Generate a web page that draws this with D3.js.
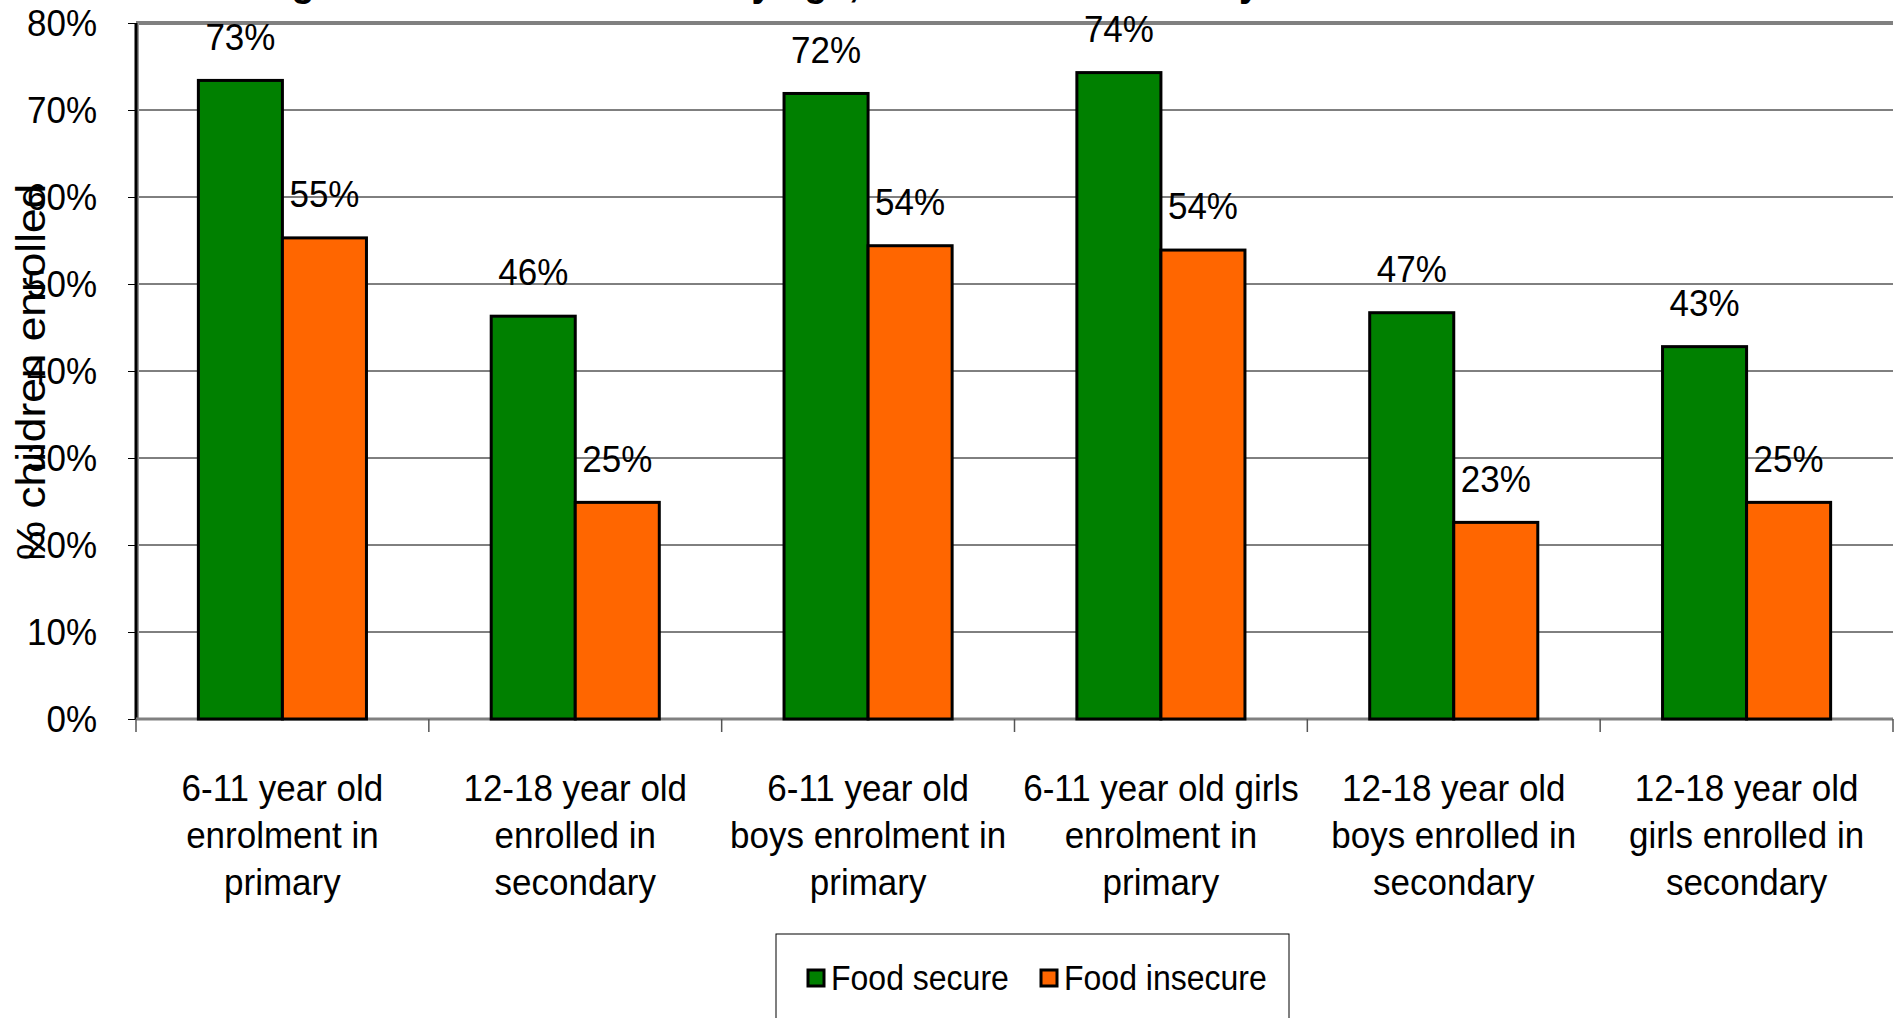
<!DOCTYPE html>
<html>
<head>
<meta charset="utf-8">
<script src="https://cdn.jsdelivr.net/npm/d3@7"></script>
<style>
  html, body { margin: 0; padding: 0; background: #fff; }
  svg { display: block; }
  text { font-family: "Liberation Sans", Arial, sans-serif; fill: #000; }
</style>
</head>
<body>
<svg id="chart" width="1902" height="1018"></svg>
<script>
// ---- data ----
const categories = [
  ["6-11 year old", "enrolment in", "primary"],
  ["12-18 year old", "enrolled in", "secondary"],
  ["6-11 year old", "boys enrolment in", "primary"],
  ["6-11 year old girls", "enrolment in", "primary"],
  ["12-18 year old", "boys enrolled in", "secondary"],
  ["12-18 year old", "girls enrolled in", "secondary"]
];
const seriesNames = ["Food secure", "Food insecure"];
const foodSecure   = [0.734, 0.463, 0.719, 0.743, 0.467, 0.428];
const foodInsecure = [0.553, 0.249, 0.544, 0.539, 0.226, 0.249];
const yTicks = [0, 0.1, 0.2, 0.3, 0.4, 0.5, 0.6, 0.7, 0.8];
const yTitle = "% children enrolled";
const chartTitle = "Percentage of children in school by age, sex and food security";

(function () {
// ---- layout ----
const svg = d3.select("#chart");
const pLeft = 136, pRight = 1893, pTop = 23, pBottom = 719;
const VS = 1.08; // vertical stretch of text in the original image
const colors = {"Food secure": "#008000", "Food insecure": "#FF6600"};

const catIdx = categories.map((d, i) => i);
const x0 = d3.scaleBand().domain(catIdx).range([pLeft, pRight]).padding(0);
const innerW = x0.bandwidth() * 0.574;
const x1 = d3.scaleBand().domain(seriesNames)
  .range([(x0.bandwidth() - innerW) / 2, (x0.bandwidth() + innerW) / 2]).padding(0);
const y = d3.scaleLinear().domain([0, 0.8]).range([pBottom, pTop]);

function stretched(sel, x, yy, extra) {
  return sel.attr("transform", `translate(${x},${yy}) scale(1,${VS})` + (extra || ""));
}

// title (mostly clipped above the window, as in the original)
stretched(svg.append("text"), 131, -4)
  .attr("font-size", 38).attr("font-weight", "bold").text(chartTitle);

// gridlines
svg.append("g").selectAll("line").data(yTicks.filter(t => t > 0 && t < 0.8)).join("line")
  .attr("x1", pLeft).attr("x2", pRight)
  .attr("y1", d => y(d)).attr("y2", d => y(d))
  .attr("stroke", "#000").attr("stroke-width", 1);
// top border (80%)
svg.append("line").attr("x1", pLeft).attr("x2", pRight)
  .attr("y1", y(0.8)).attr("y2", y(0.8))
  .attr("stroke", "#808080").attr("stroke-width", 4);

// y axis via d3
const yAxis = d3.axisLeft(y).tickValues(yTicks).tickSize(8).tickFormat(() => "");
const yg = svg.append("g").attr("transform", `translate(${pLeft},0)`).call(yAxis);
yg.select(".domain").remove();
yg.selectAll(".tick line").attr("stroke", "#000").attr("stroke-width", 1);
svg.append("line").attr("x1", pLeft + 2).attr("x2", pLeft + 2).attr("y1", pTop).attr("y2", pBottom)
  .attr("stroke", "#999").attr("stroke-width", 2);
svg.append("line").attr("x1", pLeft).attr("x2", pLeft).attr("y1", pTop).attr("y2", pBottom + 1)
  .attr("stroke", "#000").attr("stroke-width", 3);

// y tick labels
const fmt = d3.format(".0%");
yTicks.forEach(t => {
  stretched(svg.append("text"), 97, y(t))
    .attr("text-anchor", "end").attr("dy", "0.35em").attr("font-size", 35).text(fmt(t));
});

// y title
stretched(svg.append("text"), 45, 372, " rotate(-90)")
  .attr("text-anchor", "middle").attr("font-size", 41).text(yTitle);

// x axis baseline and ticks
svg.append("line").attr("x1", pLeft).attr("x2", pRight).attr("y1", pBottom).attr("y2", pBottom)
  .attr("stroke", "#808080").attr("stroke-width", 3);
const bounds = catIdx.map(i => x0(i)).concat([pRight]);
svg.append("g").selectAll("line").data(bounds).join("line")
  .attr("x1", d => d).attr("x2", d => d).attr("y1", pBottom).attr("y2", pBottom + 13)
  .attr("stroke", "#555").attr("stroke-width", 1.5);

// bars
const rows = catIdx.map(i => [
  {s: "Food secure", v: foodSecure[i], i},
  {s: "Food insecure", v: foodInsecure[i], i}
]);
const groups = svg.append("g").selectAll("g").data(rows).join("g")
  .attr("transform", (d, i) => `translate(${x0(i)},0)`);
groups.selectAll("rect").data(d => d).join("rect")
  .attr("x", d => x1(d.s)).attr("width", x1.bandwidth())
  .attr("y", d => y(d.v)).attr("height", d => y(0) - y(d.v))
  .attr("fill", d => colors[d.s]).attr("stroke", "#000").attr("stroke-width", 3);

// data labels
rows.flat().forEach(d => {
  stretched(svg.append("text"), x0(d.i) + x1(d.s) + x1.bandwidth() / 2, y(d.v) - 44)
    .attr("text-anchor", "middle").attr("dy", "0.35em").attr("font-size", 35)
    .text(fmt(Math.round(d.v * 100) / 100));
});

// category labels
categories.forEach((lines, i) => {
  lines.forEach((ln, k) => {
    stretched(svg.append("text"), x0(i) + x0.bandwidth() / 2, 788 + k * 47)
      .attr("text-anchor", "middle").attr("dy", "0.35em").attr("font-size", 35).text(ln);
  });
});

// legend
svg.append("rect").attr("x", 776).attr("y", 934).attr("width", 513).attr("height", 120)
  .attr("fill", "#fff").attr("stroke", "#000").attr("stroke-width", 1);
const legX = [808, 1041];
seriesNames.forEach((s, k) => {
  svg.append("rect").attr("x", legX[k]).attr("y", 970).attr("width", 16).attr("height", 16)
    .attr("fill", colors[s]).attr("stroke", "#000").attr("stroke-width", 3);
  stretched(svg.append("text"), legX[k] + 23, 978)
    .attr("dy", "0.35em").attr("font-size", 32).text(s);
});
})();
</script>
</body>
</html>
